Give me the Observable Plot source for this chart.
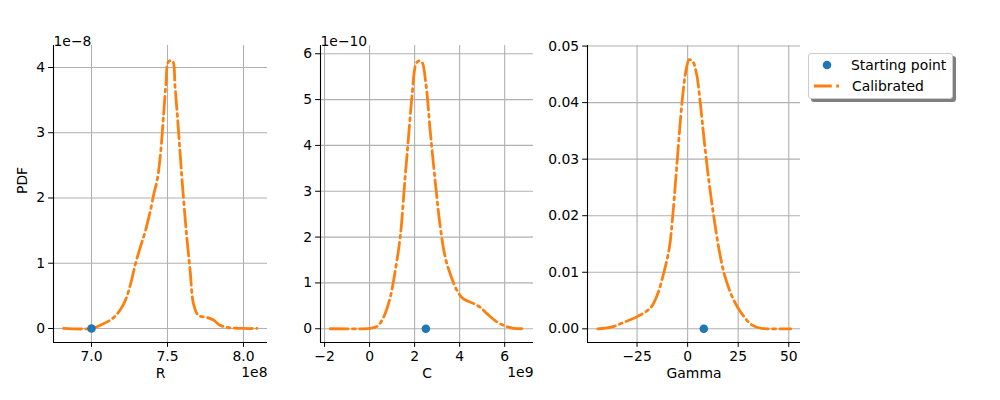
<!DOCTYPE html>
<html>
<head>
<meta charset="utf-8">
<script src="https://cdn.jsdelivr.net/npm/d3@7"></script>
<script src="https://cdn.jsdelivr.net/npm/@observablehq/plot@0.6"></script>
<style>
  body { margin: 0; background: white; font-family: "DejaVu Sans", sans-serif; }
  #wrap { position: relative; width: 1000px; height: 400px; }
  .panel { position: absolute; top: 0; }
  #legend { position: absolute; left: 808px; top: 53px; width: 143px; height: 44px;
    border: 1px solid #cccccc; border-radius: 3px; background: white;
    box-shadow: 3px 3px 0 #7f7f7f; font-size: 13.9px; color: black; }
  .entry { position: absolute; left: 0; height: 18px; line-height: 18px; white-space: nowrap; }
</style>
</head>
<body>
<div id="wrap">
  <div id="legend">
    <div class="entry" style="top:2px">
      <svg width="40" height="18" style="position:absolute;left:3px;top:0"><circle cx="15" cy="9" r="4.3" fill="#1f77b4"/></svg>
      <span style="position:absolute;left:42px">Starting point</span>
    </div>
    <div class="entry" style="top:23px">
      <svg width="40" height="18" style="position:absolute;left:3px;top:0"><line x1="2" x2="30" y1="9" y2="9" stroke="#ff7f0e" stroke-width="2.78" stroke-dasharray="17.8,4.4,2.8,4.4"/></svg>
      <span style="position:absolute;left:43px">Calibrated</span>
    </div>
  </div>
</div>
<script>
// Panel R (x in units of 1e8, pdf in units of 1e-8)
const rX   = [6.816, 7.0, 7.059, 7.147, 7.213, 7.257, 7.289, 7.322, 7.355, 7.388, 7.41, 7.432, 7.455, 7.475, 7.49, 7.507, 7.533, 7.55, 7.572, 7.601, 7.627, 7.649, 7.671, 7.704, 7.759, 7.803, 7.846, 7.912, 8.0, 8.088];
const rPdf = [0.0, 0.0, 0.05, 0.17, 0.38, 0.68, 0.99, 1.25, 1.5, 1.81, 2.06, 2.27, 2.7, 3.3, 3.75, 4.09, 4.1, 3.7, 3.04, 2.12, 1.4, 0.89, 0.38, 0.2, 0.17, 0.13, 0.05, 0.01, 0.0, 0.0];
const rStart = [7.0, 0];
const rTicksX = [7.0, 7.5, 8.0];
const rTicksY = [0, 1, 2, 3, 4];

// Panel C (x in units of 1e9, pdf in units of 1e-10)
const cX   = [-1.75, 0.0, 0.33, 0.62, 0.92, 1.14, 1.36, 1.58, 1.73, 1.88, 2.06, 2.17, 2.32, 2.5, 2.69, 2.91, 3.14, 3.36, 3.58, 3.88, 4.17, 4.62, 4.91, 5.21, 5.65, 6.02, 6.39, 6.76];
const cPdf = [0.0, 0.01, 0.05, 0.25, 0.69, 1.27, 2.0, 3.31, 4.18, 5.05, 5.78, 5.84, 5.82, 5.35, 4.33, 3.24, 2.22, 1.56, 1.2, 0.84, 0.65, 0.55, 0.47, 0.33, 0.15, 0.06, 0.01, 0.0];
const cStart = [2.5, 0];
const cTicksX = [-2, 0, 2, 4, 6];
const cTicksY = [0, 1, 2, 3, 4, 5, 6];

// Panel Gamma
const gX   = [-44.4, -37.8, -31.2, -24.7, -18.1, -14.8, -11.5, -9.0, -7.4, -5.8, -4.1, -2.5, -0.8, 0.8, 2.5, 4.4, 6.3, 8.2, 10.7, 13.2, 15.6, 18.1, 21.4, 24.7, 28.0, 31.3, 36.2, 41.1, 51.0];
const gPdf = [0.0, 0.0003, 0.0012, 0.0022, 0.0038, 0.0062, 0.0103, 0.0144, 0.0198, 0.0268, 0.0345, 0.041, 0.0457, 0.0476, 0.0473, 0.0451, 0.0398, 0.0333, 0.0256, 0.0192, 0.0139, 0.0097, 0.0062, 0.0038, 0.0021, 0.0008, 0.0001, 0.0, 0.0];
const gStart = [8.0, 0];
const gTicksX = [-25, 0, 25, 50];
const gTicksY = [0, 0.01, 0.02, 0.03, 0.04, 0.05];

function panel(o) {
  const data = o.xs.map((x, i) => ({x, y: o.ys[i]}));
  const marks = [
    Plot.ruleX(o.xTicks, {stroke: "#b0b0b0", strokeWidth: 1.1}),
    Plot.ruleY(o.yTicks, {stroke: "#b0b0b0", strokeWidth: 1.1}),
    Plot.ruleX([o.xDomain[0]], {stroke: "black", strokeWidth: 1.1}),
    Plot.ruleY([o.yDomain[0]], {stroke: "black", strokeWidth: 1.1}),
    Plot.line(data, {x: "x", y: "y", stroke: "#ff7f0e", strokeWidth: 2.78, strokeDasharray: "17.8,4.4,2.8,4.4", curve: "catmull-rom"}),
    Plot.dot([{x: o.start[0], y: o.start[1]}], {x: "x", y: "y", r: 4.3, fill: "#1f77b4", stroke: "none"}),
    Plot.text([o.xLabel], {text: d => d, frameAnchor: "bottom", dy: 35})
  ];
  if (o.xOff) marks.push(Plot.text([o.xOff], {text: d => d, frameAnchor: "bottom-right", textAnchor: "end", dy: 34}));
  if (o.yOff) marks.push(Plot.text([o.yOff], {text: d => d, frameAnchor: "top-left", textAnchor: "start", dy: -9}));
  if (o.yLabel) marks.push(Plot.text([o.yLabel], {text: d => d, frameAnchor: "left", dx: -31, rotate: -90}));
  const p = Plot.plot({
    width: o.width, height: 400,
    marginTop: 45, marginBottom: 58, marginLeft: o.ml, marginRight: o.mr,
    style: {fontFamily: "DejaVu Sans", fontSize: "13.9px", color: "black", background: "transparent", overflow: "visible"},
    x: {domain: o.xDomain, ticks: o.xTicks, tickFormat: o.xFmt, tickSize: 4.86, tickPadding: 3.5, label: null},
    y: {domain: o.yDomain, ticks: o.yTicks, tickFormat: o.yFmt, tickSize: 4.86, tickPadding: 3.5, label: null},
    marks
  });
  p.classList.add("panel");
  p.style.left = o.left + "px";
  document.getElementById("wrap").appendChild(p);
}

panel({xs: rX, ys: rPdf, start: rStart, xDomain: [6.75, 8.158], yDomain: [-0.215, 4.337],
  xTicks: rTicksX, yTicks: rTicksY, xFmt: d3.format(".1f"), yFmt: d3.format("d"),
  xLabel: "R", xOff: "1e8", yOff: "1e\u22128", yLabel: "PDF", left: 0, width: 280, ml: 53, mr: 13});
panel({xs: cX, ys: cPdf, start: cStart, xDomain: [-2.18, 7.28], yDomain: [-0.3, 6.18],
  xTicks: cTicksX, yTicks: cTicksY, xFmt: d3.format("d"), yFmt: d3.format("d"),
  xLabel: "C", xOff: "1e9", yOff: "1e\u221210", left: 280, width: 270, ml: 40, mr: 17});
panel({xs: gX, ys: gPdf, start: gStart, xDomain: [-49.5, 55.8], yDomain: [-0.00242, 0.0501],
  xTicks: gTicksX, yTicks: gTicksY, xFmt: d3.format("d"), yFmt: d3.format(".2f"),
  xLabel: "Gamma", left: 550, width: 260, ml: 37, mr: 10});
document.getElementById("wrap").appendChild(document.getElementById("legend"));
</script>
</body>
</html>
